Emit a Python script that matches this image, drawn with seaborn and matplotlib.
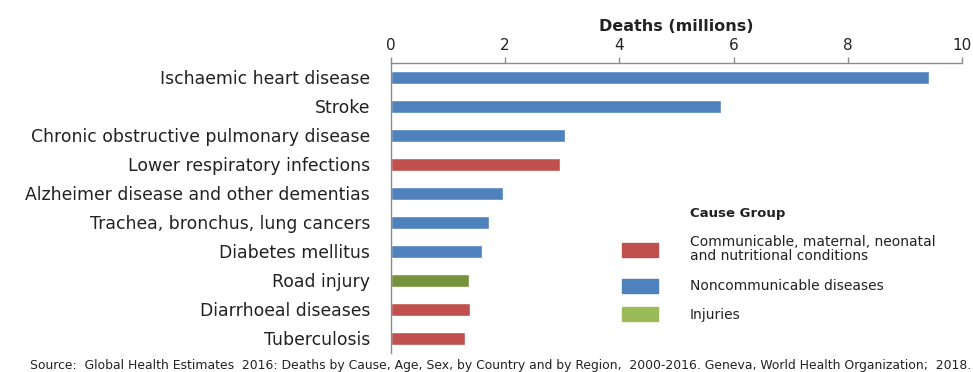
import numpy as np
import pandas as pd
import seaborn as sns
import matplotlib.pyplot as plt
from matplotlib.patches import Rectangle

causes = ['Ischaemic heart disease', 'Stroke', 'Chronic obstructive pulmonary disease',
          'Lower respiratory infections', 'Alzheimer disease and other dementias',
          'Trachea, bronchus, lung cancers', 'Diabetes mellitus', 'Road injury',
          'Diarrhoeal diseases', 'Tuberculosis']
deaths = [9.43, 5.78, 3.04, 2.96, 1.97, 1.71, 1.59, 1.37, 1.38, 1.29]
groups = ['NCD', 'NCD', 'NCD', 'CMNN', 'NCD', 'NCD', 'NCD', 'INJ', 'CMNN', 'CMNN']

group_labels = ['Communicable, maternal, neonatal\nand nutritional conditions',
                'Noncommunicable diseases', 'Injuries']
bar_colors = {'CMNN': '#C0504D', 'NCD': '#4F81BD', 'INJ': '#76923C'}
legend_colors = ['#C0504D', '#4F81BD', '#9BBB59']
source = ('Source:  Global Health Estimates  2016: Deaths by Cause, Age, Sex, by Country and by Region,  '
          '2000-2016. Geneva, World Health Organization;  2018.')

df = pd.DataFrame({'Cause': causes, 'Deaths': deaths, 'Group': groups})

sns.set_style('white')
plt.rcParams['font.family'] = ['DejaVu Sans']
txt = '#222222'
spine = '#8C8C8C'

fig = plt.figure(figsize=(9.73, 3.72), dpi=100)
ax = fig.add_axes([0.4018, 0.0511, 0.5869, 0.7796])

sns.barplot(data=df, x='Deaths', y='Cause', hue='Group', palette=bar_colors,
            width=0.43, dodge=False, legend=False, ax=ax, saturation=1)

ax.set_xlim(0, 10)
ax.set_ylim(9.5, -0.5)
ax.xaxis.tick_top()
ax.xaxis.set_label_position('top')
ax.set_xticks([0, 2, 4, 6, 8, 10])
ax.tick_params(axis='x', direction='out', length=4, width=1, color=spine,
               labelsize=11, labelcolor=txt, pad=3)
ax.set_xlabel('Deaths (millions)', fontsize=11.5, fontweight='bold', color=txt, labelpad=5)
ax.set_ylabel('')

ax.set_yticks(np.arange(len(causes)))
ax.set_yticklabels(causes)
ax.set_yticks(np.arange(-0.5, len(causes)), minor=True)
ax.tick_params(axis='y', which='major', length=0, labelsize=12.4, labelcolor=txt, pad=15)
ax.tick_params(axis='y', which='minor', length=5, width=1, color=spine, direction='out')

for s in ['right', 'bottom']:
    ax.spines[s].set_visible(False)
for s in ['top', 'left']:
    ax.spines[s].set_color(spine)
    ax.spines[s].set_linewidth(1)

# legend
W, H = 973, 372
fig.text(690 / W, 1 - 213 / H, 'Cause Group', fontsize=9.5, fontweight='bold',
         color=txt, va='center', ha='left')
patch_y = [250, 286, 314]
text_y = [249, 286, 315]
for c, lab, py, ty in zip(legend_colors, group_labels, patch_y, text_y):
    fig.add_artist(Rectangle((622 / W, 1 - (py + 7) / H), 36 / W, 14 / H,
                             transform=fig.transFigure, color=c))
    fig.text(690 / W, 1 - ty / H, lab, fontsize=10, color=txt, va='center',
             ha='left', linespacing=0.95)

fig.text(30 / W, 1 - 365 / H, source, fontsize=8.9, color=txt, va='center', ha='left')

fig.savefig('out.png', dpi=100)
